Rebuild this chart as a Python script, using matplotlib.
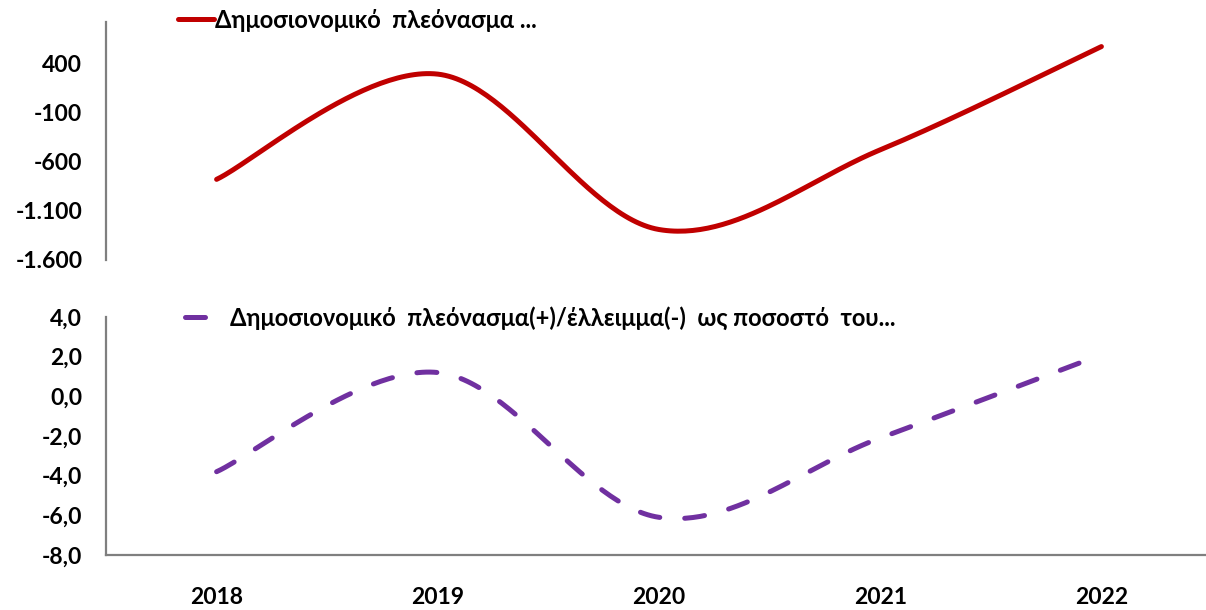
import numpy as np
import matplotlib
matplotlib.use("Agg")
import matplotlib.pyplot as plt

years = ["2018", "2019", "2020", "2021", "2022"]
surplus_abs = [-780, 290, -1290, -480, 570]
surplus_pct = [-3.8, 1.2, -6.1, -2.1, 2.1]
top_ticks = [400, -100, -600, -1100, -1600]
top_labels = ["400", "-100", "-600", "-1.100", "-1.600"]
bot_ticks = [4, 2, 0, -2, -4, -6, -8]
bot_labels = ["4,0", "2,0", "0,0", "-2,0", "-4,0", "-6,0", "-8,0"]
label_abs = "Δημοσιονομικό  πλεόνασμα ..."
label_pct = "Δημοσιονομικό  πλεόνασμα(+)/έλλειμμα(-)  ως ποσοστό  του..."

RED = "#C00000"
PURPLE = "#7030A0"
SPINE = "#7f7f7f"
FONT = ["Lato", "DejaVu Sans"]
plt.rcParams["font.family"] = FONT


def smooth(xs, ys, n=60):
    xs = np.asarray(xs, float)
    ys = np.asarray(ys, float)
    P = np.column_stack([xs, ys])
    ext = np.vstack([P[0], P, P[-1]])
    out = []
    t = np.linspace(0, 1, n)
    for i in range(len(P) - 1):
        p0, p1, p2, p3 = ext[i], ext[i + 1], ext[i + 2], ext[i + 3]
        c1 = p1 + (p2 - p0) / 6.0
        c2 = p2 - (p3 - p1) / 6.0
        seg = ((1 - t) ** 3)[:, None] * p1 + (3 * (1 - t) ** 2 * t)[:, None] * c1 \
            + (3 * (1 - t) * t ** 2)[:, None] * c2 + (t ** 3)[:, None] * p2
        out.append(seg if i == 0 else seg[1:])
    S = np.vstack(out)
    return S[:, 0], S[:, 1]


W, H = 1206, 610
fig = plt.figure(figsize=(W / 100, H / 100), dpi=100)

left = 106 / W
right = 1212 / W

ax1 = fig.add_axes([left, 1 - 260 / H, right - left, (260 - 22) / H])
ax2 = fig.add_axes([left, 1 - 555 / H, right - left, (555 - 317) / H])

x = np.arange(len(years))

sx, sy = smooth(x, surplus_abs)
l1, = ax1.plot(sx, sy, color=RED, lw=3.6, solid_capstyle="round", label=label_abs)
ax1.set_xlim(-0.5, len(years) - 0.5)
ax1.set_ylim(-1600, 820)
ax1.set_yticks(top_ticks)
ax1.set_yticklabels(top_labels)
ax1.set_xticks([])
for s in ["top", "right", "bottom"]:
    ax1.spines[s].set_visible(False)
ax1.spines["left"].set_color(SPINE)
ax1.spines["left"].set_linewidth(1.6)

sx2, sy2 = smooth(x, surplus_pct)
l2, = ax2.plot(sx2, sy2, color=PURPLE, lw=3.6, linestyle=(0, (4.0, 5.0)),
               dash_capstyle="round", label=label_pct)
ax2.set_xlim(-0.5, len(years) - 0.5)
ax2.set_ylim(-8, 4)
ax2.set_yticks(bot_ticks)
ax2.set_yticklabels(bot_labels)
ax2.set_xticks(x)
ax2.set_xticklabels(years)
for s in ["top", "right"]:
    ax2.spines[s].set_visible(False)
for s in ["left", "bottom"]:
    ax2.spines[s].set_color(SPINE)
    ax2.spines[s].set_linewidth(1.6)

for ax in (ax1, ax2):
    ax.tick_params(axis="both", length=0, labelsize=16.5, pad=17)
    for lab in ax.get_yticklabels() + ax.get_xticklabels():
        lab.set_fontweight("bold")
ax2.tick_params(axis="x", pad=23)

leg1 = ax1.legend(handles=[l1], loc="center left", bbox_to_anchor=(157 / W, 1 - 20 / H),
                  bbox_transform=fig.transFigure, frameon=False, handlelength=1.5,
                  handletextpad=0.05, prop={"family": FONT, "weight": "bold", "size": 17})
leg2 = ax2.legend(handles=[l2], loc="center left", bbox_to_anchor=(164 / W, 1 - 318 / H),
                  bbox_transform=fig.transFigure, frameon=False, handlelength=1.0,
                  handletextpad=0.9, prop={"family": FONT, "weight": "bold", "size": 17})

fig.savefig("out.png", dpi=100)
